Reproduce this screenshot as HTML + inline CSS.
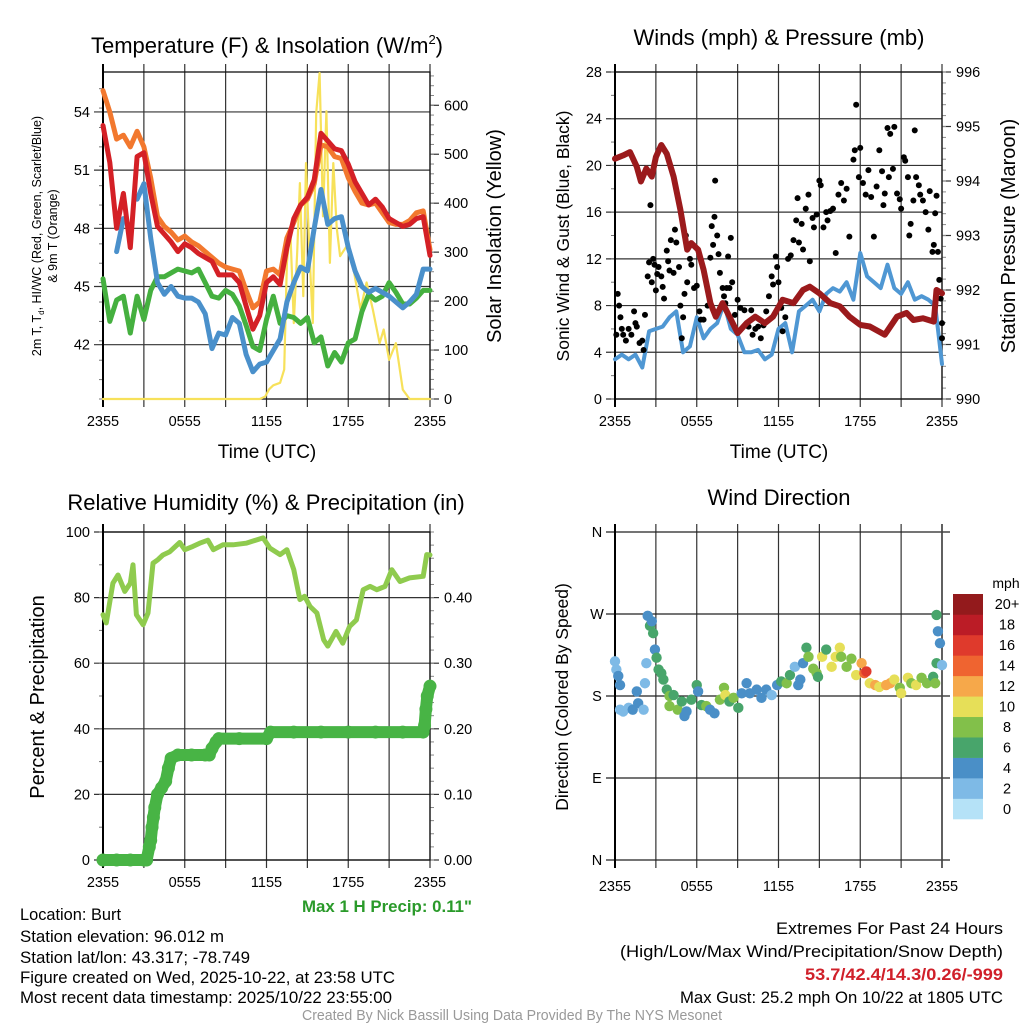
<!DOCTYPE html>
<html><head><meta charset="utf-8"><style>
html,body{margin:0;padding:0;background:#fff;}
svg{display:block;font-family:"Liberation Sans",sans-serif;}
</style></head><body>
<svg id="fig" width="1024" height="1024" viewBox="0 0 1024 1024">
<g id="g-text">
<text x="267" y="53" font-size="22" text-anchor="middle">Temperature (F) &amp; Insolation (W/m<tspan dy="-9" font-size="13">2</tspan><tspan dy="9">)</tspan></text>
<text x="779" y="45" font-size="22" text-anchor="middle">Winds (mph) &amp; Pressure (mb)</text>
<text x="266" y="510" font-size="22" text-anchor="middle">Relative Humidity (%) &amp; Precipitation (in)</text>
<text x="779" y="505" font-size="22" text-anchor="middle">Wind Direction</text>
<text transform="translate(41,236) rotate(-90)" font-size="12.5" text-anchor="middle">2m T, T<tspan font-size="8" dy="3">d</tspan><tspan dy="-3">, HI/WC (Red, Green, Scarlet/Blue)</tspan></text>
<text transform="translate(57,236) rotate(-90)" font-size="12.5" text-anchor="middle">&amp; 9m T (Orange)</text>
<text transform="translate(501,236) rotate(-90)" font-size="20" text-anchor="middle">Solar Insolation (Yellow)</text>
<text transform="translate(569,236) rotate(-90)" font-size="17.5" text-anchor="middle">Sonic Wind &amp; Gust (Blue, Black)</text>
<text transform="translate(1015,236) rotate(-90)" font-size="20" text-anchor="middle">Station Pressure (Maroon)</text>
<text transform="translate(44,697) rotate(-90)" font-size="20" text-anchor="middle">Percent &amp; Precipitation</text>
<text transform="translate(568,697) rotate(-90)" font-size="17.5" text-anchor="middle">Direction (Colored By Speed)</text>
<text x="267" y="458" font-size="19" text-anchor="middle">Time (UTC)</text>
<text x="779" y="458" font-size="19" text-anchor="middle">Time (UTC)</text>
<text x="1006" y="588" font-size="14" text-anchor="middle">mph</text>
<g font-size="17">
<text x="302" y="912" textLength="170" lengthAdjust="spacingAndGlyphs" fill="#2a9a2a" font-weight="bold">Max 1 H Precip: 0.11"</text>
<text x="20" y="920" textLength="101" lengthAdjust="spacingAndGlyphs">Location: Burt</text>
<text x="20" y="942" textLength="204" lengthAdjust="spacingAndGlyphs">Station elevation: 96.012 m</text>
<text x="20" y="963" textLength="230" lengthAdjust="spacingAndGlyphs">Station lat/lon: 43.317; -78.749</text>
<text x="20" y="983" textLength="375" lengthAdjust="spacingAndGlyphs">Figure created on Wed, 2025-10-22, at 23:58 UTC</text>
<text x="20" y="1003" textLength="372" lengthAdjust="spacingAndGlyphs">Most recent data timestamp: 2025/10/22 23:55:00</text>
<text x="776" y="934" textLength="227" lengthAdjust="spacingAndGlyphs">Extremes For Past 24 Hours</text>
<text x="620" y="957" textLength="383" lengthAdjust="spacingAndGlyphs">(High/Low/Max Wind/Precipitation/Snow Depth)</text>
<text x="805" y="980" textLength="198" lengthAdjust="spacingAndGlyphs" fill="#d0202a" font-weight="bold">53.7/42.4/14.3/0.26/-999</text>
<text x="680" y="1003" textLength="323" lengthAdjust="spacingAndGlyphs">Max Gust: 25.2 mph On 10/22 at 1805 UTC</text>
<text x="302" y="1020" textLength="420" lengthAdjust="spacingAndGlyphs" font-size="14.5" fill="#999">Created By Nick Bassill Using Data Provided By The NYS Mesonet</text>
</g>
</g>
</svg>
<script>
// ---------- data ----------
const hours = [0,0.5,1,1.5,2,2.5,3,3.5,4,4.5,5,5.5,6,6.5,7,7.5,8,8.5,9,9.5,10,10.5,11,11.5,12,12.5,13,13.5,14,14.5,15,15.5,16,16.5,17,17.5,18,18.5,19,19.5,20,20.5,21,21.5,22,22.5,23,23.5,24];
const xTickLabels = ["2355","0555","1155","1755","2355"];
const tempRed = [53.3,51.4,48,49.8,47,51.7,51.9,49.8,48.1,47.7,47.3,46.8,47.2,47,46.7,46.5,46.3,45.6,45.6,45.6,45.2,44,42.8,43.5,45.2,45.5,45.1,47,48.5,49.2,49.6,50.5,52.9,52.5,52.1,52,51.3,50.4,49.8,49.2,49.5,49.1,48.5,48.3,48.1,48.2,48.5,48.6,46.6];
const tempOrange = [55.1,54,52.6,52.8,52.2,53,52.2,50.6,48.6,48.1,47.8,47.4,47.6,47.3,47.1,46.8,46.5,46.2,46,45.9,45.8,44.8,43.9,44.2,45.8,45.9,45.6,47.5,48.3,49.2,49.5,50.3,52.3,52.2,51.7,51.6,50.6,49.9,49.3,49.2,49.3,48.8,48.3,48.2,48.2,48.4,48.8,48.9,46.9];
const tempGreen = [45.4,43.2,44.3,44.5,42.6,44.5,43.3,44.8,45.5,45.5,45.7,45.9,45.8,45.7,45.9,45.2,44.5,44.4,44.8,44.6,44,43,41.9,41.7,43.3,44.5,43.1,43.5,43.4,43.1,43.4,42.1,42.4,40.9,41.6,41.1,42.1,42.3,43.7,44.6,44.3,44.5,45.2,44.7,44.1,44.1,44.4,44.8,44.8];
const tempBlue = [null,null,46.8,48.5,null,49.5,50.3,47.5,45.2,44.6,45,44.5,44.4,44.4,44.2,43.6,41.8,42.6,42.5,43.4,43.1,41.5,40.6,41,41.1,41.7,42.3,44.2,45.2,46,45.8,48,50,48.2,48.5,48.6,47,45.8,45,44.7,44.9,44.7,44.5,44.2,43.9,44.2,44.6,45.9,45.9];
const solarHours = [0,11.5,11.9,12.2,12.5,13,13.3,13.5,13.75,14,14.25,14.45,14.7,14.9,15.15,15.4,15.65,15.9,16.15,16.4,16.65,16.9,17.15,17.4,17.9,18.4,18.9,19.35,19.8,20.3,20.6,21,21.5,22,22.5,24];
const solar = [0,0,5,20,28,33,60,278,346,155,300,441,210,482,300,155,584,666,373,588,278,482,350,292,313,264,183,238,183,114,142,80,114,19,0,0];
const tempTicks = [42,45,48,51,54];
const solarTicks = [0,100,200,300,400,500,600];
const pressHours = [0,0.6,1.1,1.6,1.9,2.3,2.7,3.0,3.4,3.8,4.3,4.8,5.3,5.6,6.1,6.5,7,7.4,7.9,8.4,9,9.65,10.3,11,11.6,12.3,13.1,13.8,14.3,15,15.8,16.5,17.2,18,18.7,19.8,20.7,21.4,21.9,22.6,23.4,23.6,24];
const pressure = [994.41,994.47,994.53,994.26,993.99,994.23,994.08,994.44,994.66,994.5,994.08,993.47,992.74,992.86,992.74,992.37,991.76,991.51,991.76,991.51,991.21,991.39,991.51,991.39,991.51,991.82,991.76,992,992.06,991.94,991.76,991.7,991.51,991.36,991.33,991.18,991.51,991.58,991.45,991.48,991.42,992,991.94];
const windSpeed = [3.4,3.8,3.4,3.8,2.7,5.8,6,6.2,7,7.5,4,4.5,7,5.2,6,6.5,8.2,6,5.5,4,4,4.2,3.4,3.8,6,6.5,4,7.5,8,8.5,7.5,9,9.5,9.2,10,8.5,12.5,10.5,10,9.5,11.5,9.5,9,10,8.5,8.8,8.5,8,3];
const gustHours = [0.1,0.2,0.3,0.4,0.5,0.6,0.8,1.0,1.2,1.4,1.5,1.6,1.8,2.0,2.1,2.2,2.4,2.5,2.6,2.7,2.8,2.9,3.0,3.1,3.2,3.4,3.5,3.6,3.8,3.9,4.0,4.1,4.3,4.4,4.5,4.7,4.8,4.9,5.0,5.1,5.2,5.3,5.5,5.6,5.8,6.0,6.2,6.3,6.5,6.8,7.0,7.1,7.2,7.3,7.35,7.5,7.6,7.7,7.9,8.0,8.1,8.2,8.3,8.4,8.5,8.6,8.8,9.0,9.2,9.5,9.8,10.0,10.1,10.3,10.5,10.7,10.9,11.1,11.3,11.5,11.6,11.8,11.9,12.0,12.2,12.3,12.5,12.7,12.9,13.1,13.3,13.4,13.5,13.7,13.8,14.0,14.2,14.3,14.5,14.6,14.8,15.0,15.1,15.3,15.5,15.6,15.8,16.0,16.2,16.4,16.6,16.8,17.0,17.2,17.5,17.6,17.7,17.9,18.0,18.2,18.4,18.6,18.8,19.0,19.2,19.4,19.6,19.7,19.8,20.0,20.1,20.2,20.4,20.5,20.7,20.9,21.0,21.2,21.3,21.5,21.6,21.7,21.9,22.0,22.1,22.3,22.4,22.6,22.8,23.0,23.1,23.3,23.4,23.5,23.6,23.7,23.8,23.9,24.0,24.0];
const gust = [5.5,9,8,7,6,5.5,5,6,5.5,7.5,6.5,6.2,4.8,5,4.2,7.2,10.5,11.7,16.6,10,12,11.5,9.3,10.7,11.3,10.5,9.6,8.6,12.7,11.8,11,13.6,10.8,14.5,13.4,11.3,8,5.2,7,9,14,10,12,11.5,9.5,9.7,7.5,6.8,6.8,8,12.1,14.8,13.2,15.6,18.7,14,12.4,10.8,9.5,8.8,8.2,9.5,12.2,9.5,13.8,10,7.2,8.5,7.8,7.6,6.2,7.6,5.5,6,6.2,5.2,6.3,7.5,8.8,10.5,9.8,12.2,11.3,10,7.8,5.8,7,12,12.3,13.6,15.3,17.2,13.4,15,12.8,16.3,17.5,11.8,15.5,14.7,15.8,18.7,18.3,14.7,16,15.3,16.1,16.3,12.5,17.5,18.5,17,18,13.9,20.5,21.3,25.2,19,21.5,18.5,17.5,19.6,17.3,13.9,18.2,21.3,19.5,16.6,17.6,23.2,19,22.7,19.7,23.3,17.6,17.1,16.3,20.7,20.4,19,14,15,17,23,19,18.3,17.5,17,16,14.5,17.8,12.6,13.2,15.9,17.4,12.6,10.2,8.6,6.5,5.2];
const windTicks = [0,4,8,12,16,20,24,28];
const pressTicks = [990,991,992,993,994,995,996];
const rhHours = [0,0.24,0.73,1.1,1.6,2,2.2,2.45,2.94,3.3,3.67,4.04,4.4,4.9,5.63,6,6.6,7.1,7.7,8.1,8.8,9.55,10.5,11.75,12.25,13,13.5,14,14.45,14.8,15.2,15.7,16.2,16.5,16.9,17.1,17.6,18.1,18.6,19.1,19.6,20.1,20.7,21.2,21.8,22.5,23.5,23.76,24];
const rh = [74.8,72.3,84.4,86.9,81.9,84.4,90,74.8,71.7,75.3,90.5,91.6,93,94,96.8,94.6,95.6,96.6,97.5,94.6,96.1,96.1,96.6,98.2,95.1,93.1,94.6,88.5,79.4,80.4,77.3,75.3,67.1,65.2,68.2,69.7,66.1,71.2,73.2,82.4,83.4,82.4,83.4,88.5,84.9,86,86.5,93.1,93];
const precipHours = [0,1,2,3,3.2,3.4,3.5,3.6,3.7,3.8,4.0,4.3,4.6,4.8,5.0,5.5,6.5,7.5,7.8,8.0,8.3,8.5,10,12,12.3,14,16,18,20,22,23.5,23.6,23.7,23.8,24];
const precip = [0,0,0,0,0,0.02,0.03,0.05,0.065,0.08,0.1,0.11,0.12,0.14,0.155,0.16,0.16,0.16,0.16,0.17,0.18,0.185,0.185,0.185,0.195,0.195,0.195,0.195,0.195,0.195,0.195,0.205,0.23,0.25,0.265];
const pctTicks = [0,20,40,60,80,100];
const precipTicks = [0,0.1,0.2,0.3,0.4];
const dirHours = [0,0.1,0.24,0.37,0.37,0.6,1,1.3,1.6,1.7,2.1,2.2,2.3,2.4,2.57,2.7,2.8,2.93,3.05,3.2,3.4,3.55,3.8,4,4.3,4,4.6,4.9,5.1,5.25,5.6,6,6.1,6.35,6.7,6.97,7.3,7.7,8,8.1,8.4,8.7,9.05,9.3,9.66,9.9,10.4,10.75,11.1,11.5,11.9,12.2,12.6,12.84,13.2,13.45,13.6,13.8,14.05,14.2,14.55,14.8,14.9,15.2,15.5,15.9,16.2,16.5,16.6,17,17.35,17.7,18.1,18.3,18.45,18.7,19.1,19.4,19.9,20.2,20.5,20.9,21,21.5,21.75,22.1,22.5,22.9,23.35,23.5,23.6,23.7,23.85,23.6,24];
const direction = [218,209,202,192,165,163,167,165,185,172,165,194,216,268,257,262,249,231,222,209,205,198,187,180,181,169,165,174,158,163,176,192,185,170,169,165,161,176,189,181,174,178,167,183,194,183,187,178,187,181,192,196,194,203,212,192,198,216,233,223,210,205,201,223,231,212,223,233,223,212,221,203,216,205,207,194,192,190,192,194,198,189,183,200,194,192,200,194,201,194,269,251,238,216,214];
const dirSpeed = [2,2,4,4,2,2,3,4,4,4,2,2,2,4,6,4,6,4,6,6,6,6,6,8,6,8,8,6,4,4,6,6,4,6,8,4,4,8,8,10,6,8,6,4,4,4,4,4,4,2,4,6,8,6,2,4,4,4,6,8,8,8,6,10,6,10,10,10,8,8,8,10,12,14,16,10,12,10,12,12,10,8,10,10,8,10,8,8,6,8,6,4,4,6,2];
const dirTickLabels = ["N","E","S","W","N"];
const colorbarLabels = ["0","2","4","6","8","10","12","14","16","18","20+"];
const colorbarColors = ["#b5e2f7","#7ebae6","#4a8fc7","#48a56b","#82c04a","#e6df58","#f6a84a","#ef6430","#df3a2c","#bb1c26","#931a1c"];

// ---------- helpers ----------
const NS="http://www.w3.org/2000/svg";
const svg=document.getElementById('fig');
function mk(tag,attrs,parent){const e=document.createElementNS(NS,tag);for(const k in attrs)e.setAttribute(k,attrs[k]);(parent||svg).appendChild(e);return e;}
const P={
 tl:{x0:103,x1:430,y0:72,y1:399},
 tr:{x0:615,x1:942,y0:72,y1:399},
 bl:{x0:103,x1:430,y0:532,y1:860},
 br:{x0:615,x1:942,y0:532,y1:860}
};
function sx(p,h){return p.x0+h/24*(p.x1-p.x0);}
function sy(p,v,mn,mx){return p.y1-(v-mn)/(mx-mn)*(p.y1-p.y0);}

function frame(p,name,hTicks,mn,mx,minorStep,rightTicks,rmn,rmx,rminor,xlabels,rightFmt){
 const g=mk('g',{});
 
 
 for(let i=0;i<=8;i++){const x=sx(p,i*3);
  const l=mk('line',{x1:x,x2:x,y1:p.y0-8,y2:p.y1+8,stroke:'#333','stroke-width':1.2},g);
  
  }
 hTicks.forEach(v=>{const y=sy(p,v,mn,mx);
  const l=mk('line',{x1:p.x0-9,x2:p.x1+(rightTicks?0:8),y1:y,y2:y,stroke:'#333','stroke-width':1.2},g);
  
  });
 if(minorStep){for(let v=mn;v<=mx+1e-9;v+=minorStep){const y=sy(p,v,mn,mx);mk('line',{x1:p.x0-4,x2:p.x0,y1:y,y2:y,stroke:'#777','stroke-width':1},g);}}
 if(rightTicks){
  rightTicks.forEach(v=>{const y=sy(p,v,rmn,rmx);mk('line',{x1:p.x1,x2:p.x1+9,y1:y,y2:y,stroke:'#333','stroke-width':1.2},g);
   const t=mk('text',{x:p.x1+14,y:y+5,'font-size':14.5},g);t.textContent=rightFmt?rightFmt(v):v;
   
   });
  for(let v=rmn;v<=rmx+1e-9;v+=rminor){const y=sy(p,v,rmn,rmx);mk('line',{x1:p.x1,x2:p.x1+4,y1:y,y2:y,stroke:'#888','stroke-width':1},g);}
 }
 mk('rect',{x:p.x0,y:p.y0,width:p.x1-p.x0,height:p.y1-p.y0,fill:'none',stroke:'#111','stroke-width':1.3},g);
 mk('line',{x1:p.x0,x2:p.x0,y1:p.y0-8,y2:p.y1+8,stroke:'#000','stroke-width':2},g);
 xlabels.forEach((s,i)=>{const t=mk('text',{x:sx(p,i*6),y:p.y1+27,'font-size':14.5,'text-anchor':'middle'},g);t.textContent=s;
  
  });
 return g;
}
function leftLabels(p,ticks,mn,mx){
 ticks.forEach(v=>{const t=mk('text',{x:p.x0-13,y:sy(p,v,mn,mx)+5,'font-size':14.5,'text-anchor':'end'});t.textContent=v;
  
  });
}
function path(p,xs,ys,mn,mx,color,w,name){
 let d='',pen=false;
 for(let i=0;i<ys.length;i++){if(ys[i]===null){pen=false;continue;}
  d+=(pen?'L':'M')+sx(p,xs[i]).toFixed(1)+','+sy(p,ys[i],mn,mx).toFixed(1);pen=true;}
 const e=mk('path',{d:d,fill:'none',stroke:color,'stroke-width':w,'stroke-linejoin':'round','stroke-linecap':'round'});
 
 
 return e;
}

// ---------- temperature panel ----------
frame(P.tl,'temperature',tempTicks,39.2,56.06,1,solarTicks,0,668,20,xTickLabels);
leftLabels(P.tl,tempTicks,39.2,56.06);
path(P.tl,solarHours,solar,0,668,'#f7e15a',2.2,'solar-line');
path(P.tl,hours,tempOrange,39.2,56.06,'#f2782e',5,'temp-9m-line');
path(P.tl,hours,tempGreen,39.2,56.06,'#45b03f',5,'dewpoint-line');
path(P.tl,hours,tempBlue,39.2,56.06,'#4a90cb',5,'windchill-line');
path(P.tl,hours,tempRed,39.2,56.06,'#d42026',5,'temp-2m-line');

// ---------- winds panel ----------
frame(P.tr,'winds',windTicks,0,28,2,pressTicks,990,996,0.2,xTickLabels);
leftLabels(P.tr,windTicks,0,28);
path(P.tr,hours,windSpeed,0,28,'#4f97d3',4,'sonic-wind-line');
const gg=mk('g',{});


gustHours.forEach((h,i)=>{const c=mk('circle',{cx:sx(P.tr,h),cy:sy(P.tr,gust[i],0,28),r:3,fill:'#000'},gg);
 
 });
path(P.tr,pressHours,pressure,990,996,'#9b1a1c',6,'pressure-line');

// ---------- humidity panel ----------
frame(P.bl,'humidity',pctTicks,0,100,10,precipTicks,0,0.5,0.02,xTickLabels,v=>v.toFixed(2));
leftLabels(P.bl,pctTicks,0,100);
path(P.bl,rhHours,rh,0,100,'#8fcb4e',5,'humidity-line');
path(P.bl,precipHours,precip,0,0.5,'#48b445',12,'precip-line');
const pg=mk('g',{});


precipHours.forEach((h,i)=>{const c=mk('circle',{cx:sx(P.bl,h),cy:sy(P.bl,precip[i],0,0.5),r:6.5,fill:'#48b445'},pg);
 
 });

// ---------- wind direction panel ----------
(function(){const p=P.br;const g=mk('g',{});
 
 
 for(let i=0;i<=8;i++){const x=sx(p,i*3);mk('line',{x1:x,x2:x,y1:p.y0-8,y2:p.y1+8,stroke:'#333','stroke-width':1.2},g);}
 dirTickLabels.forEach((s,i)=>{const y=sy(p,i*90,0,360);
  mk('line',{x1:p.x0-9,x2:p.x1+8,y1:y,y2:y,stroke:'#222','stroke-width':1.2},g);
  const t=mk('text',{x:p.x0-18,y:y+5,'font-size':14.5,'text-anchor':'middle'},g);t.textContent=s;
  
  });
 mk('line',{x1:p.x0,x2:p.x0,y1:p.y0-8,y2:p.y1+8,stroke:'#000','stroke-width':2},g);
 mk('line',{x1:p.x1,x2:p.x1,y1:p.y0-8,y2:p.y1+8,stroke:'#444','stroke-width':1.6},g);
 xTickLabels.forEach((s,i)=>{const t=mk('text',{x:sx(p,i*6),y:p.y1+31,'font-size':14.5,'text-anchor':'middle'},g);t.textContent=s;
  
  });
 const dg=mk('g',{});
 
 
 dirHours.forEach((h,i)=>{const b=Math.min(10,Math.floor(dirSpeed[i]/2));
  const c=mk('circle',{cx:sx(p,h),cy:sy(p,direction[i],0,360),r:5.2,fill:colorbarColors[b]},dg);
  
  });
 const cb=mk('g',{});
 
 
 const bh=225/11;
 colorbarColors.forEach((col,i)=>{const y=819-(i+1)*bh;
  const r=mk('rect',{x:953,y:y,width:30,height:bh+0.3,fill:col},cb);
  
  
  const t=mk('text',{x:1007,y:y+bh/2+5,'font-size':14.5,'text-anchor':'middle'},cb);t.textContent=colorbarLabels[i];
  
  });
})();
</script>
</body></html>
